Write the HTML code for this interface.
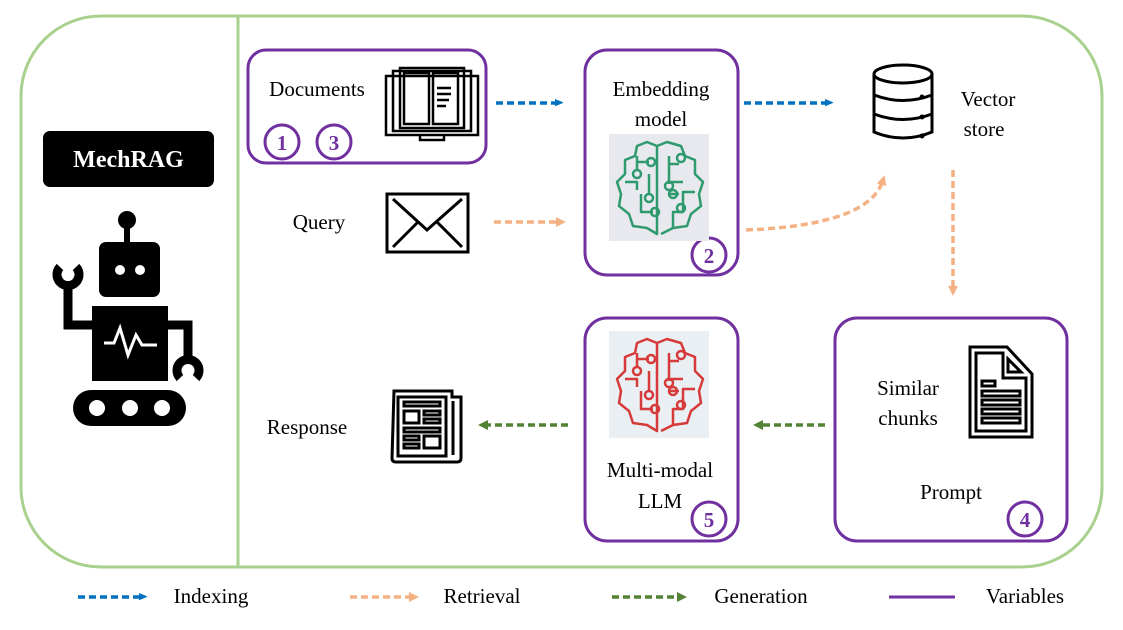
<!DOCTYPE html>
<html><head><meta charset="utf-8"><style>
html,body{margin:0;padding:0;background:#fff;}
svg{display:block;}
text{font-family:"Liberation Serif",serif;font-size:21px;fill:#000;}
</style></head><body>
<svg width="1123" height="630" viewBox="0 0 1123 630" xmlns="http://www.w3.org/2000/svg">
<defs>
<marker id="ab" markerWidth="8" markerHeight="8" refX="5" refY="4" orient="auto" markerUnits="userSpaceOnUse"><path d="M0,0 L10,4 L0,8z" fill="#0070c0" transform="scale(0.9)"/></marker>
<marker id="ao" markerWidth="10" markerHeight="10" refX="5" refY="5" orient="auto" markerUnits="userSpaceOnUse"><path d="M0,0 L10,5 L0,10z" fill="#f4b183"/></marker>
<marker id="ag" markerWidth="10" markerHeight="10" refX="5" refY="5" orient="auto" markerUnits="userSpaceOnUse"><path d="M0,0 L10,5 L0,10z" fill="#548235"/></marker>
<g id="brain" fill="none" stroke-width="2.5" stroke-linejoin="round">
<path d="M48,12 L38,8 L28,12 L26,22 L16,26 L16,40 L8,48 L12,60 L10,72 L20,80 L24,92 L38,94 L48,100 L48,12 L58,8 L72,12 L76,22 L86,26 L86,40 L94,48 L90,60 L92,72 L82,80 L78,92 L64,94 L52,100"/>
<path d="M28,22 L28,36 M28,28 L40,28 M16,48 L28,48 L28,56 M40,40 L40,60 M32,60 L32,78 L44,78 M60,22 L60,50 M60,30 L70,30 M58,48 L74,48 M86,58 L74,58 L74,78 L64,78 L64,94 M60,60 L70,60"/>
<circle cx="42" cy="28" r="4"/><circle cx="28" cy="40" r="4"/><circle cx="40" cy="64" r="4"/><circle cx="46" cy="78" r="4"/><circle cx="72" cy="24" r="4"/><circle cx="60" cy="52" r="4"/><circle cx="64" cy="60" r="4"/><circle cx="72" cy="74" r="4"/>
</g>
</defs>

<rect x="21" y="16" width="1081" height="551" rx="80" fill="none" stroke="#a9d18e" stroke-width="3"/>
<line x1="238" y1="16" x2="238" y2="567" stroke="#a9d18e" stroke-width="3"/>

<rect x="43" y="131" width="171" height="56" rx="7" fill="#000"/>
<text x="128.5" y="167" text-anchor="middle" style="font-weight:bold;font-size:24px;fill:#fff">MechRAG</text>

<g fill="#000">
<circle cx="127" cy="220" r="9"/>
<rect x="124" y="220" width="6" height="25"/>
<rect x="99" y="242" width="61" height="55" rx="7"/>
<rect x="92" y="306" width="76" height="75"/>
<rect x="73" y="390" width="113" height="36" rx="18"/>
</g>
<g fill="none" stroke="#000" stroke-width="9">
<path d="M92,325 H68 V284"/>
<path d="M168,325 H188 V362"/>
<path d="M76,267 A11,11 0 1 1 60,267"/>
<path d="M180,378 A11,11 0 1 1 196,378"/>
</g>
<g fill="#fff">
<circle cx="120" cy="270" r="5"/><circle cx="140" cy="270" r="5"/>
<circle cx="97" cy="408" r="8"/><circle cx="130" cy="408" r="8"/><circle cx="162" cy="408" r="8"/>
</g>
<path d="M104,343 H114 L120,328 L128,355 L136,335 L142,345 H157" stroke="#fff" stroke-width="3" fill="none"/>

<g fill="none" stroke="#7030a0" stroke-width="3">
<rect x="248" y="50" width="238" height="113" rx="18"/>
<rect x="585" y="50" width="153" height="225" rx="22"/>
<rect x="585" y="318" width="153" height="223" rx="22"/>
<rect x="835" y="318" width="232" height="223" rx="22"/>
<circle cx="282" cy="142" r="17"/><circle cx="334" cy="142" r="17"/>
<circle cx="709" cy="255" r="17"/><circle cx="1025" cy="519" r="17"/><circle cx="709" cy="519" r="17"/>
</g>
<text x="282" y="150" text-anchor="middle" style="font-weight:bold;fill:#7030a0">1</text>
<text x="334" y="150" text-anchor="middle" style="font-weight:bold;fill:#7030a0">3</text>
<text x="709" y="263" text-anchor="middle" style="font-weight:bold;fill:#7030a0">2</text>
<text x="1025" y="527" text-anchor="middle" style="font-weight:bold;fill:#7030a0">4</text>
<text x="709" y="527" text-anchor="middle" style="font-weight:bold;fill:#7030a0">5</text>

<text x="317" y="96" text-anchor="middle">Documents</text>
<text x="661" y="96" text-anchor="middle">Embedding</text>
<text x="661" y="126" text-anchor="middle">model</text>
<text x="988" y="106" text-anchor="middle">Vector</text>
<text x="984" y="136" text-anchor="middle">store</text>
<text x="319" y="229" text-anchor="middle">Query</text>
<text x="908" y="395" text-anchor="middle">Similar</text>
<text x="908" y="425" text-anchor="middle">chunks</text>
<text x="951" y="499" text-anchor="middle">Prompt</text>
<text x="660" y="477" text-anchor="middle">Multi-modal</text>
<text x="660" y="508" text-anchor="middle">LLM</text>
<text x="307" y="434" text-anchor="middle">Response</text>

<rect x="609" y="134" width="100" height="107" fill="#e8e9ee"/>
<use href="#brain" x="609" y="134" stroke="#2e9a6e"/>
<rect x="609" y="331" width="100" height="107" fill="#e9eff2"/>
<use href="#brain" x="609" y="331" stroke="#d63a3a"/>

<g fill="none" stroke="#000" stroke-width="2.5">
<rect x="386" y="76" width="92" height="59"/>
<rect x="393" y="71" width="78" height="60"/>
<rect x="400" y="68" width="64" height="60"/>
<rect x="404" y="73" width="25" height="51"/>
<rect x="433" y="73" width="25" height="51"/>
<path d="M420,135 v5 h24 v-5"/>
<path d="M437,88 h14 M437,94 h14 M437,100 h12 M437,106 h9"/>
</g>
<g fill="none" stroke="#000" stroke-width="3">
<rect x="387" y="194" width="81" height="58"/>
<path d="M393,199 L427,230 L462,199 M393,247 L418,222 M462,247 L437,222"/>
</g>
<g fill="none" stroke="#000" stroke-width="3">
<ellipse cx="903" cy="74" rx="29" ry="9"/>
<path d="M874,74 V132 Q903,144 932,132 V74"/>
<path d="M874,95 Q903,106 932,95 M874,114 Q903,125 932,114"/>
</g>
<circle cx="922" cy="97" r="2.5"/><circle cx="922" cy="117" r="2.5"/><circle cx="922" cy="136" r="2.5"/>
<g fill="none" stroke="#000" stroke-width="3">
<path d="M970,347 H1007 L1032,374 V437 H970Z"/>
<path d="M976,353 H1003 V378 H1026 V431 H976Z"/>
<path d="M1008,359 L1021,372 H1008Z"/>
<rect x="982" y="381" width="13" height="5"/>
<rect x="982" y="391" width="38" height="5"/><rect x="982" y="400" width="38" height="5"/><rect x="982" y="409" width="38" height="5"/><rect x="982" y="418" width="38" height="5"/>
</g>
<g fill="none" stroke="#000" stroke-width="3">
<path d="M394,391 H452 V397 H461 V458 Q461,462 457,462 H396 Q392,462 392,458Z"/>
<rect x="398" y="397" width="48" height="59"/>
<path d="M453,401 V455"/>
<rect x="404" y="402" width="36" height="4"/>
<rect x="404" y="411" width="15" height="12"/><rect x="424" y="411" width="16" height="4"/><rect x="424" y="419" width="16" height="4"/>
<rect x="404" y="428" width="36" height="4"/>
<rect x="404" y="436" width="15" height="4"/><rect x="404" y="444" width="15" height="4"/><rect x="424" y="436" width="16" height="12"/>
</g>

<g fill="none" stroke-width="3.5" stroke-dasharray="7,4">
<line x1="496" y1="103" x2="560" y2="103" stroke="#0070c0" marker-end="url(#ab)"/>
<line x1="744" y1="103" x2="830" y2="103" stroke="#0070c0" marker-end="url(#ab)"/>
<line x1="494" y1="222" x2="561" y2="222" stroke="#f4b183" marker-end="url(#ao)"/>
<path d="M746,230 Q870,225 883,180" stroke="#f4b183" marker-end="url(#ao)"/>
<line x1="953" y1="170" x2="953" y2="291" stroke="#f4b183" marker-end="url(#ao)"/>
<line x1="825" y1="425" x2="758" y2="425" stroke="#548235" marker-end="url(#ag)"/>
<line x1="568" y1="425" x2="483" y2="425" stroke="#548235" marker-end="url(#ag)"/>
<line x1="78" y1="597" x2="144" y2="597" stroke="#0070c0" marker-end="url(#ab)"/>
<line x1="350" y1="597" x2="414" y2="597" stroke="#f4b183" marker-end="url(#ao)"/>
<line x1="612" y1="597" x2="682" y2="597" stroke="#548235" marker-end="url(#ag)"/>
</g>
<line x1="889" y1="597" x2="955" y2="597" stroke="#7030a0" stroke-width="3"/>
<text x="211" y="603" text-anchor="middle">Indexing</text>
<text x="482" y="603" text-anchor="middle">Retrieval</text>
<text x="761" y="603" text-anchor="middle">Generation</text>
<text x="1025" y="603" text-anchor="middle">Variables</text>
</svg>
</body></html>
